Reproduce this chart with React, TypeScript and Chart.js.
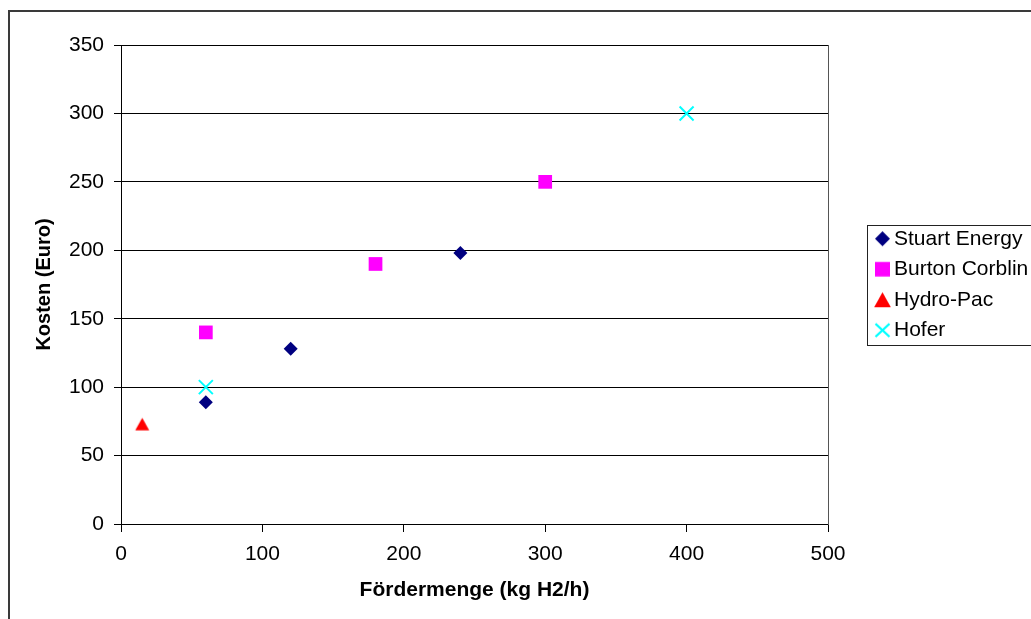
import React, { useEffect, useRef } from 'react';
import { Chart, registerables } from 'chart.js';

Chart.register(...registerables);

// ---- data ----
const seriesNames = ['Stuart Energy', 'Burton Corblin', 'Hydro-Pac', 'Hofer'];
const stuartX = [60, 120, 240];
const stuartY = [89, 128, 198];
const burtonX = [60, 180, 300];
const burtonY = [140, 190, 250];
const hydroX = [15];
const hydroY = [73];
const hoferX = [60, 400];
const hoferY = [100, 300];
const xTicks = [0, 100, 200, 300, 400, 500];
const yTicks = [0, 50, 100, 150, 200, 250, 300, 350];
const xTitle = 'Fördermenge (kg H2/h)';
const yTitle = 'Kosten (Euro)';

const seriesColors = ['#000080', '#FF00FF', '#FF0000', '#00FFFF'];

const FONT = '"Liberation Sans", Arial, Helvetica, sans-serif';
const W = 1022;
const H = 640;

function pts(xs: number[], ys: number[]) {
  return xs.map((x, i) => ({ x, y: ys[i] }));
}

function makeIcon(kind: string, color: string, scale = 1): HTMLCanvasElement {
  const c = document.createElement('canvas');
  c.width = 19;
  c.height = 19;
  const g = c.getContext('2d')!;
  const m = 9.5;
  const s = scale;
  g.fillStyle = color;
  g.strokeStyle = color;
  g.beginPath();
  if (kind === 'diamond') {
    g.moveTo(m, m - 7.5 * s);
    g.lineTo(m + 7.5 * s, m);
    g.lineTo(m, m + 7.5 * s);
    g.lineTo(m - 7.5 * s, m);
    g.closePath();
    g.fill();
  } else if (kind === 'square') {
    g.rect(m - 7.5 * s, m - 7.3 * s, 15 * s, 14.6 * s);
    g.fill();
  } else if (kind === 'triangle') {
    g.moveTo(m, m - 7.5 * s);
    g.lineTo(m + 8.35 * s, m + 7.5 * s);
    g.lineTo(m - 8.35 * s, m + 7.5 * s);
    g.closePath();
    g.fill();
  } else {
    g.lineWidth = 2.3;
    g.moveTo(m - 7 * s, m - 6.5 * s);
    g.lineTo(m + 7 * s, m + 6.5 * s);
    g.moveTo(m + 7 * s, m - 6.5 * s);
    g.lineTo(m - 7 * s, m + 6.5 * s);
    g.stroke();
  }
  return c;
}

const legendBoxPlugin = {
  id: 'legendBox',
  afterDraw(chart: any) {
    const lg = chart.legend;
    if (!lg) return;
    const ctx = chart.ctx;
    const cy = (lg.top + lg.bottom) / 2;
    ctx.save();
    ctx.strokeStyle = '#222';
    ctx.lineWidth = 1;
    ctx.strokeRect(Math.round(lg.left - 5) + 0.5, Math.round(cy - 60) + 0.5, chart.width, 120);
    ctx.restore();
  },
};

export default function App() {
  const ref = useRef<HTMLCanvasElement>(null);

  useEffect(() => {
    const canvas = ref.current;
    if (!canvas) return;
    const icons = [
      makeIcon('diamond', seriesColors[0]),
      makeIcon('square', seriesColors[1]),
      makeIcon('triangle', seriesColors[2]),
      makeIcon('cross', seriesColors[3]),
    ];
    const plotTriangle = makeIcon('triangle', seriesColors[2], 0.84);
    const tickFont = { family: FONT, size: 21 };
    const chart = new Chart(canvas, {
      type: 'scatter',
      data: {
        datasets: [
          {
            label: seriesNames[0],
            data: pts(stuartX, stuartY),
            pointStyle: 'rectRot',
            pointRadius: 7,
            pointHoverRadius: 7,
            backgroundColor: seriesColors[0],
            borderColor: seriesColors[0],
            pointBorderWidth: 0,
            yAxisID: 'y',
          },
          {
            label: seriesNames[1],
            data: pts(burtonX, burtonY),
            pointStyle: 'rect',
            pointRadius: 9.7,
            pointHoverRadius: 9.7,
            backgroundColor: seriesColors[1],
            borderColor: seriesColors[1],
            pointBorderWidth: 0,
            yAxisID: 'y',
          },
          {
            label: seriesNames[2],
            data: pts(hydroX, hydroY),
            pointStyle: plotTriangle,
            pointRadius: 8,
            pointHoverRadius: 8,
            backgroundColor: seriesColors[2],
            borderColor: seriesColors[2],
            pointBorderWidth: 0,
            yAxisID: 'y',
          },
          {
            label: seriesNames[3],
            data: pts(hoferX, hoferY),
            pointStyle: 'crossRot',
            pointRadius: 9.9,
            pointHoverRadius: 9.9,
            backgroundColor: seriesColors[3],
            borderColor: seriesColors[3],
            pointBorderWidth: 2,
            yAxisID: 'y',
          },
        ],
      },
      options: {
        responsive: false,
        animation: false,
        devicePixelRatio: 1,
        layout: { padding: { left: 0, top: 33, right: 0, bottom: H - 590.6 } },
        plugins: {
          tooltip: { enabled: false },
          legend: {
            display: true,
            position: 'right',
            align: 'center',
            fullSize: false,
            maxWidth: 160,
            labels: {
              usePointStyle: true,
              pointStyleWidth: 2,
              padding: 9.5,
              color: '#000',
              font: { family: FONT, size: 21 },
              generateLabels: (ch: any) =>
                Chart.defaults.plugins.legend.labels
                  .generateLabels(ch)
                  .map((it: any, i: number) => ({ ...it, pointStyle: icons[i], rotation: 0 })),
            },
          },
        },
        scales: {
          x: {
            type: 'linear',
            position: 'bottom',
            min: xTicks[0],
            max: xTicks[xTicks.length - 1],
            ticks: { stepSize: xTicks[1] - xTicks[0], padding: 10, color: '#000', font: tickFont },
            grid: { drawOnChartArea: false, drawTicks: true, tickLength: 8, color: '#000', lineWidth: 1 },
            border: { display: true, color: '#000', width: 1 },
            title: {
              display: true,
              text: xTitle,
              color: '#000',
              font: { family: FONT, size: 21, weight: 'bold' },
              padding: { top: 0, bottom: 0 },
            },
            afterFit: (s: any) => {
              s.height = 78.6;
            },
          },
          y: {
            type: 'linear',
            position: 'left',
            min: yTicks[0],
            max: yTicks[yTicks.length - 1],
            ticks: { stepSize: yTicks[1] - yTicks[0], padding: 10, color: '#000', font: tickFont },
            grid: { drawOnChartArea: true, drawTicks: true, tickLength: 7, color: '#000', lineWidth: 1 },
            border: { display: true, color: '#000', width: 1 },
            title: {
              display: true,
              text: yTitle,
              color: '#000',
              font: { family: FONT, size: 20, weight: 'bold' },
              padding: { top: 22, bottom: 0 },
            },
            afterFit: (s: any) => {
              s.width = 111;
            },
          },
          y2: {
            type: 'linear',
            position: 'right',
            display: true,
            grid: { display: false, drawTicks: false },
            ticks: { display: false },
            border: { display: true, color: '#555', width: 1 },
            afterFit: (s: any) => {
              s.width = 44;
            },
          },
        },
      } as any,
      plugins: [legendBoxPlugin],
    });
    return () => chart.destroy();
  }, []);

  return (
    <div
      style={{
        position: 'fixed',
        left: 8,
        top: 10,
        width: W,
        height: H,
        border: '2px solid #3a3a3a',
        background: '#fff',
      }}
    >
      <canvas ref={ref} width={W} height={H} style={{ display: 'block', width: W, height: H }} />
    </div>
  );
}
